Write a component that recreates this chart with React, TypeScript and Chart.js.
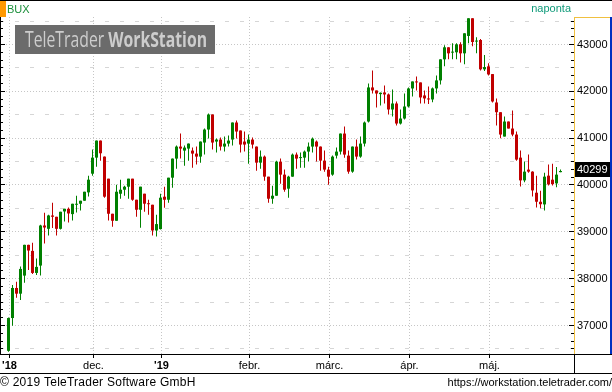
import React, { useEffect, useRef } from "react";
import { Chart, registerables } from "chart.js";

Chart.register(...registerables);

// ---- data (BUX daily candles, Nov 2018 - May 2019) ----
const OPEN = [
  36459, 37159, 37801, 37679, 38065, 38722, 38593, 38122, 38279, 39135,
  39064, 39349, 39321, 39064, 39435, 39492, 39378, 39578, 39599, 39664,
  39842, 40242, 40584, 40948, 40606, 40135, 39386, 39236, 39813, 39899,
  39963, 40135, 39685, 39471, 39814, 39610, 39578, 39028, 39058, 39750,
  39685, 40156, 40563, 40820, 40734, 40777, 40734, 40670, 40606, 40906,
  41184, 41505, 40927, 40970, 40820, 40884, 40970, 41334, 41163, 40927,
  40884, 40970, 40820, 40477, 40606, 40178, 39707, 39771, 40499, 40221,
  39921, 40178, 40649, 40574, 40584, 40713, 40820, 40927, 40820, 40520,
  40328, 40221, 40627, 40713, 41098, 40627, 40285, 40820, 40606, 40884,
  41355, 42083, 42019, 41940, 41976, 41933, 41612, 41740, 41312, 41419,
  41676, 42061, 42211, 42190, 41912, 41848, 41826, 42062, 42233, 42683,
  42940, 42826, 42833, 43004, 42811, 43182, 43560, 43062, 43096, 42469,
  42533, 42368, 41762, 41554, 41034, 41355, 41205, 41077, 40584, 40098,
  40328, 40285, 39835, 39642, 39585, 40199, 40113, 40034, 40274,
];
const HIGH = [
  37170, 37865, 37935, 38257, 38722, 38722, 38765, 38430, 39150, 39407,
  39364, 39621, 39321, 39428, 39492, 39520, 39599, 39771, 39664, 39856,
  40199, 40756, 40948, 40948, 40606, 40135, 39386, 40006, 40113, 39985,
  40135, 40135, 39685, 39964, 39814, 39685, 39578, 39364, 39814, 39964,
  40156, 40563, 40841, 41098, 40841, 40884, 40799, 40820, 40927, 41206,
  41527, 41505, 40991, 41013, 41034, 41056, 41334, 41377, 41163, 41141,
  41077, 41013, 40820, 40734, 40627, 40178, 39985, 40520, 40563, 40328,
  40199, 40670, 40692, 40692, 40734, 40906, 41013, 40948, 40820, 40734,
  40392, 40627, 40800, 41098, 41248, 40734, 40820, 40970, 41034, 41355,
  42169, 42446, 42019, 41976, 42125, 41953, 42040, 41783, 41612, 41953,
  42083, 42211, 42318, 42190, 42019, 42105, 42083, 42340, 42683, 42983,
  42940, 43025, 43025, 43047, 43239, 43560, 43560, 43154, 43117, 42775,
  42597, 42368, 41845, 41554, 41462, 41355, 41591, 41141, 40734, 40499,
  40649, 40295, 40199, 39878, 40263, 40435, 40456, 40385, 40328,
];
const LOW = [
  36440, 36994, 37594, 37544, 37915, 38187, 38100, 38079, 38065, 38750,
  38921, 39079, 38921, 39050, 39221, 39199, 39242, 39414, 39456, 39664,
  39756, 40199, 40392, 40520, 39728, 39242, 39107, 39236, 39707, 39771,
  39707, 39664, 39321, 39086, 39428, 39364, 38921, 38900, 39050, 39514,
  39621, 39942, 40349, 40563, 40413, 40520, 40370, 40435, 40477, 40649,
  40991, 40756, 40692, 40734, 40713, 40820, 40841, 40991, 40692, 40713,
  40456, 40777, 40306, 40349, 40092, 39621, 39600, 39771, 40028, 39856,
  39728, 40178, 40349, 40370, 40370, 40499, 40692, 40499, 40306, 40285,
  40006, 40199, 40563, 40649, 40584, 40242, 40263, 40542, 40584, 40820,
  41334, 41953, 41655, 41698, 41739, 41503, 41460, 41270, 41291, 41398,
  41655, 41890, 42019, 41739, 41739, 41730, 41768, 41955, 42147, 42533,
  42683, 42683, 42683, 42618, 42576, 43025, 42961, 42811, 42447, 42432,
  42340, 41762, 41270, 40998, 41034, 41205, 41041, 40520, 39970, 40056,
  40263, 39756, 39520, 39503, 39456, 39991, 39991, 39949, 40270,
];
const CLOSE = [
  37159, 37801, 37679, 38208, 38722, 38600, 38122, 38251, 39135, 39092,
  39349, 39321, 39064, 39428, 39492, 39392, 39599, 39599, 39664, 39856,
  40113, 40584, 40948, 40677, 39750, 39386, 39236, 39856, 39899, 39963,
  40135, 39685, 39471, 39964, 39600, 39589, 39028, 39165, 39728, 39685,
  40156, 40563, 40820, 40777, 40799, 40884, 40670, 40606, 40927, 41184,
  41505, 40906, 40970, 40820, 40884, 40948, 41334, 41141, 40863, 40863,
  40970, 40863, 40477, 40606, 40178, 39707, 39771, 40499, 40221, 39899,
  40178, 40649, 40563, 40595, 40713, 40820, 40991, 40820, 40520, 40328,
  40178, 40606, 40713, 41098, 40649, 40285, 40820, 40606, 40884, 41334,
  42083, 42019, 41953, 41970, 41933, 41612, 41740, 41312, 41419, 41676,
  42061, 42211, 42190, 41869, 41848, 41826, 42062, 42233, 42683, 42940,
  42811, 42839, 43004, 42811, 43239, 43560, 43053, 43074, 42469, 42518,
  42361, 41783, 41554, 41077, 41355, 41205, 41077, 40542, 40098, 40285,
  40285, 39884, 39642, 39589, 40178, 40013, 40017, 40221, 40299,
];

// candle index of the first trading day of each month, and its label
const MONTH_TICKS = [0, 21, 38, 60, 80, 100, 120];
const MONTH_LABELS = ["'18", "dec.", "'19", "febr.", "márc.", "ápr.", "máj."];
const MONTH_IS_YEAR = [true, false, true, false, false, false, false];
const Y_TICKS = [37000, 38000, 39000, 40000, 41000, 42000, 43000];
const Y_HALF_TICKS = [36500, 37500, 38500, 39500, 40500, 41500, 42500, 43500];

const TITLE = "BUX";
const PERIOD = "naponta";
const LOGO_A = "TeleTrader ";
const LOGO_B = "WorkStation";
const COPYRIGHT = "© 2019 TeleTrader Software GmbH";
const SITE = "https://workstation.teletrader.com/";

// scale ranges
const X_MIN = -2.125;
const X_MAX = 141.375;
const Y_MIN = 36391;
const Y_MAX = 43587;

const FONT = '"Liberation Sans", Arial, Helvetica, sans-serif';
const UP = "#008000";
const DOWN = "#c00000";

const decor = {
  id: "decor",
  beforeDraw(chart: any) {
    const { ctx, chartArea: a } = chart;
    const x = chart.scales.x;
    const y = chart.scales.y;
    const W = chart.width;
    const H = chart.height;
    ctx.save();
    ctx.fillStyle = "#ffffff";
    ctx.fillRect(0, 0, W, H);
    ctx.lineWidth = 1;
    // dashed half lines
    ctx.strokeStyle = "#d6d6d6";
    ctx.setLineDash([4, 11]);
    for (const v of Y_HALF_TICKS) {
      const py = Math.floor(y.getPixelForValue(v)) + 0.5;
      if (py < a.top || py > a.bottom) continue;
      ctx.beginPath();
      ctx.moveTo(a.left, py);
      ctx.lineTo(a.right, py);
      ctx.stroke();
    }
    // dotted major lines
    ctx.strokeStyle = "#c6c6c6";
    ctx.setLineDash([1, 2]);
    for (const v of Y_TICKS) {
      const py = Math.floor(y.getPixelForValue(v)) + 0.5;
      ctx.beginPath();
      ctx.moveTo(a.left, py);
      ctx.lineTo(a.right, py);
      ctx.stroke();
    }
    for (const t of MONTH_TICKS) {
      const px = Math.floor(x.getPixelForValue(t + 0.25)) + 0.5;
      ctx.beginPath();
      ctx.moveTo(px, a.top);
      ctx.lineTo(px, a.bottom);
      ctx.stroke();
    }
    ctx.setLineDash([]);
    // logo
    ctx.fillStyle = "#6b6b6b";
    ctx.fillRect(15, 25, 200, 29);
    const LF = '"Open Sans", "Liberation Sans", Arial, sans-serif';
    ctx.font = `21px ${LF}`;
    const w1 = ctx.measureText(LOGO_A).width;
    ctx.font = `bold 21px ${LF}`;
    const w2 = ctx.measureText(LOGO_B).width;
    const sx = 182 / (w1 + w2);
    ctx.translate(25, 47);
    ctx.scale(sx, 1);
    ctx.fillStyle = "#cdcdcd";
    ctx.textBaseline = "alphabetic";
    ctx.textAlign = "left";
    ctx.font = `21px ${LF}`;
    ctx.fillText(LOGO_A, 0, 0);
    ctx.font = `bold 21px ${LF}`;
    ctx.fillText(LOGO_B, w1, 0);
    ctx.restore();
  },
  afterDraw(chart: any) {
    const { ctx, chartArea: a } = chart;
    const x = chart.scales.x;
    const y = chart.scales.y;
    const W = chart.width;
    const H = chart.height;
    ctx.save();
    ctx.setLineDash([]);
    // header
    ctx.fillStyle = "#000";
    ctx.fillRect(0, 0, W, 1);
    ctx.fillStyle = "#ff9900";
    ctx.fillRect(0, 1, 6, a.top - 1);
    ctx.font = `11px ${FONT}`;
    ctx.textBaseline = "alphabetic";
    ctx.textAlign = "left";
    ctx.fillStyle = "#1a8f3a";
    ctx.fillText(TITLE, 7, 13);
    ctx.textAlign = "right";
    ctx.fillStyle = "#0f9a7a";
    ctx.fillText(PERIOD, a.right - 3, 12);
    // left border and ticks
    ctx.fillStyle = "#000";
    ctx.fillRect(a.left, a.top, 1, a.bottom - a.top);
    const n0 = Math.ceil((Y_MIN * 6) / 1000);
    const n1 = Math.floor((Y_MAX * 6) / 1000);
    for (let n = n0; n <= n1; n++) {
      const v = (n * 1000) / 6;
      const py = Math.floor(y.getPixelForValue(v));
      const len = n % 6 === 0 ? 5 : 3;
      ctx.fillRect(a.left, py, len, 1);
      ctx.fillRect(a.right - len, py, len, 1);
    }
    // right axis panel frame
    ctx.fillStyle = "#f0c040";
    ctx.fillRect(a.right, a.top, 1, a.bottom - a.top);
    ctx.fillRect(a.right, a.top, W - a.right - 2, 1);
    ctx.fillStyle = "#0030c0";
    ctx.fillRect(W - 2, a.top, 2, a.bottom - a.top);
    // x band
    ctx.fillStyle = "#000";
    ctx.fillRect(0, a.bottom, W, 1);
    ctx.fillRect(0, a.bottom + 19, W, 1);
    ctx.fillRect(a.right, a.bottom, 1, 20);
    for (const t of MONTH_TICKS) {
      const px = Math.floor(x.getPixelForValue(t + 0.25));
      ctx.fillRect(px, a.bottom + 1, 1, 3);
    }
    // last price tag
    const last = CLOSE[CLOSE.length - 1];
    const py = y.getPixelForValue(last);
    ctx.fillStyle = "#000";
    ctx.fillRect(a.right + 1, Math.round(py) - 9, W - a.right - 3, 15);
    ctx.fillStyle = "#fff";
    ctx.font = `11px ${FONT}`;
    ctx.textAlign = "left";
    ctx.textBaseline = "middle";
    ctx.fillText(String(last), a.right + 3, Math.round(py) - 1.5);
    // footer
    ctx.fillStyle = "#000";
    ctx.textBaseline = "alphabetic";
    ctx.font = `12px ${FONT}`;
    ctx.textAlign = "left";
    (ctx as any).letterSpacing = "0.25px";
    ctx.fillText(COPYRIGHT, 0, H - 6);
    (ctx as any).letterSpacing = "0px";
    ctx.font = `11px ${FONT}`;
    ctx.textAlign = "right";
    ctx.fillText(SITE, W, H - 6);
    ctx.restore();
  },
};

export default function App() {
  const ref = useRef<HTMLCanvasElement>(null);
  useEffect(() => {
    document.body.style.margin = "0";
    const canvas = ref.current;
    if (!canvas) return;
    const idx = CLOSE.map((_, i) => i);
    const colors = idx.map((i) => (CLOSE[i] >= OPEN[i] ? UP : DOWN));
    const chart = new Chart(canvas, {
      type: "bar",
      data: {
        datasets: [
          {
            label: "range",
            data: idx.map((i) => ({ x: i, y: [LOW[i], HIGH[i]] })) as any,
            backgroundColor: colors,
            barThickness: 1,
            grouped: false,
            borderWidth: 0,
            inflateAmount: 0,
          } as any,
          {
            label: "body",
            data: idx.map((i) => ({ x: i, y: [OPEN[i], CLOSE[i]] })) as any,
            backgroundColor: colors,
            barThickness: 3,
            grouped: false,
            borderWidth: 0,
            minBarLength: 1,
            inflateAmount: 0,
          } as any,
        ],
      },
      options: {
        animation: false,
        responsive: false,
        maintainAspectRatio: false,
        devicePixelRatio: 1,
        layout: { padding: { top: 17, left: 0, right: 0, bottom: 19 } },
        plugins: { legend: { display: false }, tooltip: { enabled: false } },
        scales: {
          x: {
            type: "linear",
            min: X_MIN,
            max: X_MAX,
            offset: false,
            position: "bottom",
            grid: { display: false, drawTicks: false },
            border: { display: false },
            afterBuildTicks: (s: any) => {
              s.ticks = MONTH_TICKS.map((t) => ({ value: t + 0.25 }));
            },
            afterFit: (s: any) => {
              s.height = 19;
              s.paddingLeft = 0;
              s.paddingRight = 0;
            },
            ticks: {
              autoSkip: false,
              maxRotation: 0,
              minRotation: 0,
              padding: 5,
              color: "#000",
              font: (c: any) => ({
                family: FONT,
                size: 11,
                weight: MONTH_IS_YEAR[c.index] ? "bold" : "normal",
              }),
              callback: (_v: any, i: number) => MONTH_LABELS[i],
            },
          } as any,
          y: {
            type: "linear",
            position: "right",
            min: Y_MIN,
            max: Y_MAX,
            beginAtZero: false,
            grid: { display: false, drawTicks: false },
            border: { display: false },
            afterBuildTicks: (s: any) => {
              s.ticks = Y_TICKS.map((v) => ({ value: v }));
            },
            afterFit: (s: any) => {
              s.width = 38;
            },
            ticks: {
              padding: 3,
              color: "#000",
              font: { family: FONT, size: 11 },
              callback: (v: any) => String(v),
            },
          } as any,
        },
      },
      plugins: [decor],
    });
    return () => chart.destroy();
  }, []);
  return (
    <canvas
      ref={ref}
      width={612}
      height={392}
      style={{ display: "block", width: 612, height: 392 }}
    />
  );
}
